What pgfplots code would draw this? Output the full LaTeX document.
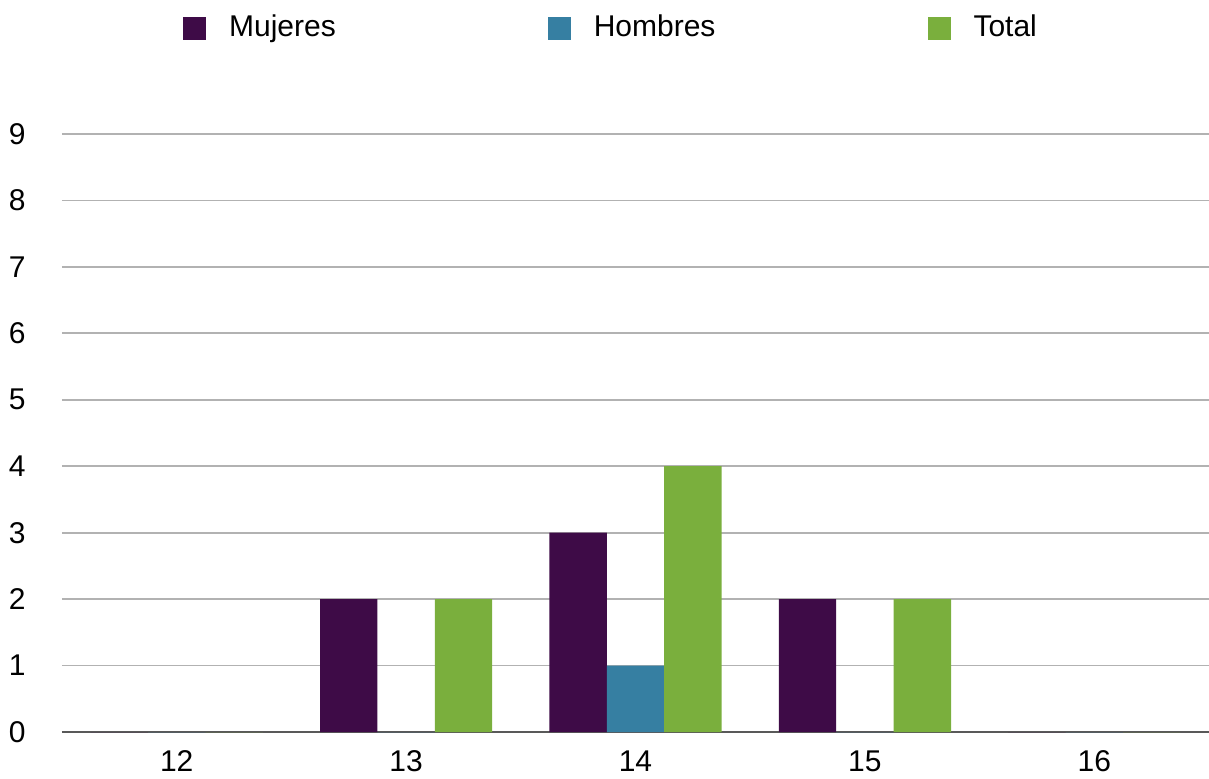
\documentclass[border=0pt]{standalone}
\usepackage{pgfplots}
\pgfplotsset{compat=1.18}
\usepackage{fontspec}
\setmainfont{Liberation Sans}
\definecolor{cMuj}{HTML}{3E0B47}
\definecolor{cHom}{HTML}{367FA2}
\definecolor{cTot}{HTML}{7AAF3D}
\begin{document}
\fontsize{15pt}{18pt}\selectfont
\begin{tikzpicture}
\useasboundingbox (-31pt,-23pt) rectangle (573.5pt,366pt);
\begin{axis}[
  scale only axis,
  width=573.5pt, height=299pt,
  xmin=-0.5, xmax=4.5, ymin=0, ymax=9,
  ybar=0pt, bar width=28.7pt,
  xtick={0,1,2,3,4}, xticklabels={12,13,14,15,16},
  ytick={0,1,...,9},
  major tick length=0pt,
  /pgf/number format/assume math mode=true,
  axis lines*=left,
  y axis line style={draw=none},
  x axis line style={draw=black!65, line width=1.3pt},
  ymajorgrids,
  grid style={draw=black!30, line width=0.9pt},
  yticklabel style={font=\fontsize{15pt}{18pt}\selectfont, xshift=-13pt},
  xticklabel style={font=\fontsize{15pt}{18pt}\selectfont, yshift=-4pt},
  legend columns=3,
  legend style={draw=none, fill=none, at={(0.4795,1.177)}, anchor=center,
    font=\fontsize{15pt}{18pt}\selectfont,
    /tikz/every odd column/.append style={column sep=9.5pt},
    /tikz/every even column/.append style={column sep=104pt}},
  legend image code/.code={\path[#1,draw=none] (0pt,-5.75pt) rectangle (11.5pt,5.75pt);},
]
\addplot[fill=cMuj, draw=none] coordinates {(0,0) (1,2) (2,3) (3,2) (4,0)};
\addplot[fill=cHom, draw=none] coordinates {(0,0) (1,0) (2,1) (3,0) (4,0)};
\addplot[fill=cTot, draw=none] coordinates {(0,0) (1,2) (2,4) (3,2) (4,0)};
\legend{Mujeres,Hombres,Total}
\end{axis}
\end{tikzpicture}
\end{document}
